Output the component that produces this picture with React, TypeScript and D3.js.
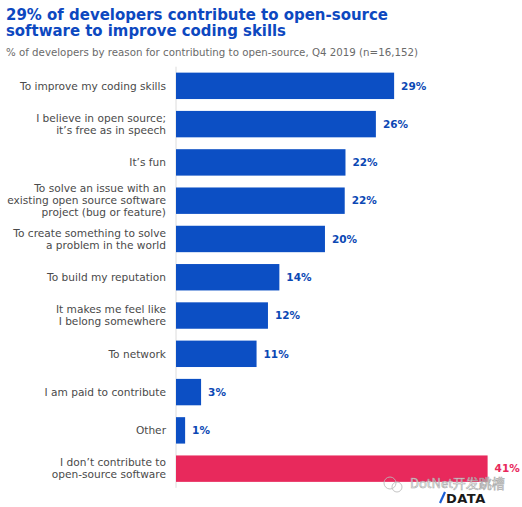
import React from "react";
import * as d3 from "d3";

const categories: string[][] = [
  ["To improve my coding skills"],
  ["I believe in open source;", "it\u2019s free as in speech"],
  ["It\u2019s fun"],
  ["To solve an issue with an", "existing open source software", "project (bug or feature)"],
  ["To create something to solve", "a problem in the world"],
  ["To build my reputation"],
  ["It makes me feel like", "I belong somewhere"],
  ["To network"],
  ["I am paid to contribute"],
  ["Other"],
  ["I don\u2019t contribute to", "open-source software"],
];
const values: number[] = [28.7, 26.3, 22.3, 22.2, 19.6, 13.6, 12.1, 10.6, 3.3, 1.2, 41.0];
const valueLabels: string[] = ["29%", "26%", "22%", "22%", "20%", "14%", "12%", "11%", "3%", "1%", "41%"];
const highlight: boolean[] = [false, false, false, false, false, false, false, false, false, false, true];

const titleLines = ["29% of developers contribute to open-source", "software to improve coding skills"];
const subtitle = "% of developers by reason for contributing to open-source, Q4 2019 (n=16,152)";

const W = 522;
const H = 507;
const BLUE = "#0c4fc4";
const RED = "#e8295c";
const FONT = "'DejaVu Sans', sans-serif";

export default function App() {
  const idx = categories.map((_, i) => String(i));
  const y = d3.scaleBand<string>().domain(idx).range([66.7, 487.8]).paddingInner(0.31).paddingOuter(0.155);
  const x = d3.scaleLinear().domain([0, 41]).range([176, 487.6]);
  const bw = y.bandwidth();

  return (
    <svg width={W} height={H} style={{ position: "absolute", left: 0, top: 0, background: "#fff" }} fontFamily={FONT}>
      <rect x={0} y={0} width={W} height={H} fill="#fff" />
      {titleLines.map((t, i) => (
        <text key={i} x={6} y={19.8 + i * 16.4} fill="#0d48c0" fontSize={16.5} fontWeight={700}
          textLength={i === 0 ? 382 : 280} lengthAdjust="spacingAndGlyphs">{t}</text>
      ))}
      <text x={6} y={56} fill="#6a6a6a" fontSize={9.8} textLength={412} lengthAdjust="spacingAndGlyphs">{subtitle}</text>

      <line x1={x(0)} x2={x(0)} y1={y.range()[0]} y2={y.range()[1]} stroke="#dcdcdc" strokeWidth={1} />

      {values.map((v, i) => {
        const top = y(String(i))!;
        const cy = top + bw / 2;
        const lines = categories[i];
        const color = highlight[i] ? RED : BLUE;
        return (
          <g key={i}>
            <rect x={x(0)} y={top} width={x(v) - x(0)} height={bw} fill={color} />
            <text textAnchor="end" fill="#4a4a4a" fontSize={10.6}>
              {lines.map((l, j) => (
                <tspan key={j} x={166} y={cy + (j - (lines.length - 1) / 2) * 12 + 3.8}>{l}</tspan>
              ))}
            </text>
            <text x={x(v) + 7} y={cy + 3.8} fill={highlight[i] ? RED : "#0b48b4"} fontSize={10.5} fontWeight={700}>
              {valueLabels[i]}
            </text>
          </g>
        );
      })}

      <g opacity={0.85}>
        <circle cx={390} cy={483} r={6} fill="none" stroke="#bbb" strokeWidth={1} />
        <circle cx={397} cy={487} r={5} fill="none" stroke="#bbb" strokeWidth={1} />
        <text x={410} y={488} fill="#fff" stroke="#999" strokeWidth={0.6} fontSize={13} fontFamily="'Noto Sans CJK SC', sans-serif">DotNet开发跳槽</text>
      </g>
      <line x1={440} y1={503} x2={445} y2={492} stroke="#1a5fd6" strokeWidth={2.2} />
      <text x={446} y={503} fill="#1a1a1a" fontSize={13} fontWeight={800} letterSpacing={0.5}>DATA</text>
    </svg>
  );
}
